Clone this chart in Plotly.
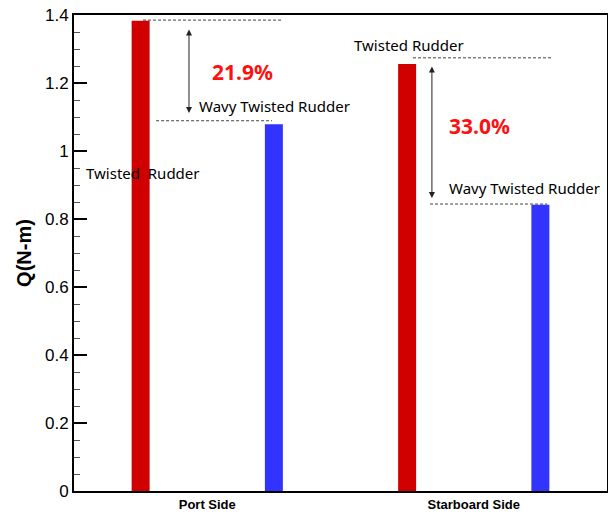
import plotly.graph_objects as go

categories = ["Port Side", "Starboard Side"]
twisted = [1.383, 1.256]
wavy = [1.079, 0.842]
reduction_labels = ["21.9%", "33.0%"]
y_ticks = [0, 0.2, 0.4, 0.6, 0.8, 1.0, 1.2, 1.4]
y_ticktext = ["0", "0.2", "0.4", "0.6", "0.8", "1", "1.2", "1.4"]

fig = go.Figure()
fig.add_trace(go.Bar(x=categories, y=twisted, name="Twisted Rudder",
                     marker=dict(color="#d00000", line=dict(width=0))))
fig.add_trace(go.Bar(x=categories, y=wavy, name="Wavy Twisted Rudder",
                     marker=dict(color="#3333ff", line=dict(width=0))))

ann_font = dict(family="Noto Sans, Arial", size=15, color="#000000")
pct_font = dict(family="Noto Sans, Arial", size=21, color="#ff1010")

# dashed reference lines at bar heights
dash_specs = [(-0.241, 0.284, twisted[0] + 0.002),
              (-0.192, 0.243, wavy[0] + 0.01),
              (0.772, 1.297, twisted[1] + 0.018),
              (0.836, 1.275, wavy[1] + 0.002)]
for x0, x1, yv in dash_specs:
    fig.add_shape(type="line", xref="x", yref="y", x0=x0, x1=x1, y0=yv, y1=yv,
                  line=dict(color="#444444", width=1, dash="3px,2px"))

annotations = []
# double arrows
arrow_specs = [(-0.0685, twisted[0] - 0.021, wavy[0] + 0.033),
               (0.843, twisted[1] - 0.003, wavy[1] + 0.02)]
for xa, ytop, ybot in arrow_specs:
    annotations.append(dict(x=xa, y=ybot, ax=xa, ay=ytop, xref="x", yref="y",
                            axref="x", ayref="y", text="", showarrow=True,
                            arrowhead=2, arrowside="end+start", arrowsize=1.2,
                            arrowwidth=1, arrowcolor="#222222"))

annotations += [
    dict(x=0.134, y=1.232, text="<b>" + reduction_labels[0] + "</b>", font=pct_font),
    dict(x=1.023, y=1.074, text="<b>" + reduction_labels[1] + "</b>", font=pct_font),
    dict(x=-0.038, y=1.132, text="Wavy Twisted Rudder", xanchor="left", font=ann_font),
    dict(x=0.900, y=0.891, text="Wavy Twisted Rudder", xanchor="left", font=ann_font),
    dict(x=-0.462, y=0.935, text="Twisted\u00a0\u00a0Rudder", xanchor="left", font=ann_font),
    dict(x=0.543, y=1.312, text="Twisted Rudder", xanchor="left", font=ann_font),
]
for a in annotations:
    a.setdefault("xref", "x")
    a.setdefault("yref", "y")
    a.setdefault("showarrow", False)

fig.update_layout(
    width=608, height=516,
    margin=dict(l=74, r=1, t=15, b=25, autoexpand=False),
    paper_bgcolor="white", plot_bgcolor="white",
    showlegend=False,
    barmode="group", bargap=0.0, bargroupgap=0.865,
    annotations=annotations,
)
fig.update_xaxes(type="category", range=[-0.5, 1.5], showgrid=False,
                 showline=True, linecolor="black", linewidth=2, mirror=True,
                 ticks="", tickfont=dict(family="Arial", size=13, color="black", weight="bold"))
fig.update_yaxes(range=[0, 1.4], tickvals=y_ticks, ticktext=y_ticktext, showgrid=False,
                 zeroline=False, showline=True, linecolor="black", linewidth=2, mirror=True,
                 ticks="inside", ticklen=13, tickwidth=2, tickcolor="black",
                 minor=dict(dtick=0.05, ticks="inside", ticklen=6, tickwidth=1, tickcolor="#555555"),
                 tickfont=dict(family="Arial", size=17, color="black"),
                 title=dict(text="<b>Q(N-m)</b>", font=dict(family="Arial", size=20, color="black"),
                            standoff=8))

fig.write_html("out.html", config={"displayModeBar": False},
               post_script="document.body.style.margin='0';")
